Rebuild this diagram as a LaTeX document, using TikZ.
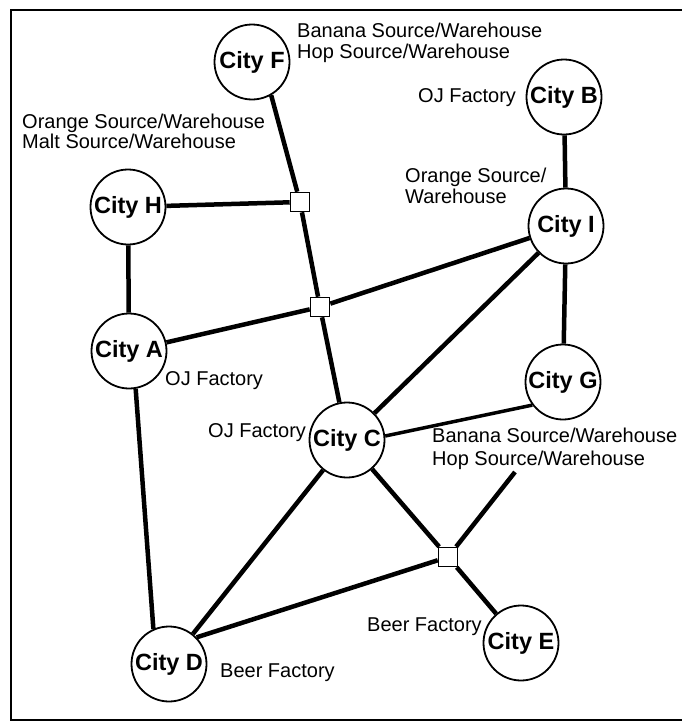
\documentclass[tikz,border=0pt]{standalone}
\usepackage{fontspec}
\setmainfont{Liberation Sans}
\begin{document}
\begin{tikzpicture}[x=1pt,y=-1pt,
  city/.style={circle,draw,line width=1.8pt,fill=white,minimum size=75pt,inner sep=0pt,font=\fontsize{23.5}{24}\selectfont\bfseries},
  hub/.style={rectangle,draw,line width=1.6pt,fill=white,minimum size=19pt,inner sep=0pt},
  road/.style={line width=4.5pt},
  lbl/.style={anchor=north west,inner sep=0pt,align=left}]
\useasboundingbox (0,0) rectangle (681,723);
\draw[line width=1.8pt] (690,10) -- (11,10) -- (11,720) -- (690,720);

% cities
\node[city] (F) at (252,62) {City F};
\node[city] (B) at (564,97) {City B};
\node[city] (H) at (128,207) {City H};
\node[city] (I) at (566,226) {City I};
\node[city] (A) at (129,351) {City A};
\node[city] (G) at (563,382) {City G};
\node[city] (C) at (347,440) {City C};
\node[city] (E) at (521,643) {City E};
\node[city] (D) at (169,664) {City D};

% junctions
\node[hub] (s1) at (300,202) {};
\node[hub] (s2) at (320,307) {};
\node[hub] (s3) at (448,557) {};
\coordinate (hubend) at (515,472);

% roads
\draw[road] (F.-60) -- (s1);
\draw[road] (s1) -- (s2);
\draw[road] (s2) -- (C);
\draw[road] (H) -- (s1);
\draw[road] (H) -- (A);
\draw[road] (A) -- (s2);
\draw[road] (s2) -- (I);
\draw[road] (B) -- (I);
\draw[road] (I) -- (G);
\draw[road] (I) -- (C);
\draw[road,line width=3.5pt] (G.217) -- (C.6);
\draw[road] (A.-80) -- (D.114);
\draw[road] (C) -- (D);
\draw[road] (D.44) -- (s3);
\draw[road] (C) -- (s3);
\draw[road] (s3) -- (E);
\draw[road] (s3) -- (hubend);

% labels
\node[lbl,font=\fontsize{20}{21}\selectfont] (lF) at (297,22.5) {Banana Source/Warehouse\\Hop Source/Warehouse};
\node[lbl,font=\fontsize{20}{20}\selectfont] (lH) at (22,113.5) {Orange Source/Warehouse\\Malt Source/Warehouse};
\node[lbl,font=\fontsize{20}{21}\selectfont] (lB) at (418,88.5) {OJ Factory};
\node[lbl,font=\fontsize{20}{21}\selectfont] (lI) at (405,167.5) {Orange Source/\\Warehouse};
\node[lbl,font=\fontsize{20}{21}\selectfont] (lA) at (165,371.5) {OJ Factory};
\node[lbl,font=\fontsize{20}{21}\selectfont] (lC) at (208,423.5) {OJ Factory};
\node[lbl,font=\fontsize{20}{23}\selectfont] (lG) at (432,427.5) {Banana Source/Warehouse\\Hop Source/Warehouse};
\node[lbl,font=\fontsize{20}{21}\selectfont] (lD) at (220,663.5) {Beer Factory};
\node[lbl,font=\fontsize{20}{21}\selectfont] (lE) at (367,617.5) {Beer Factory};
\end{tikzpicture}
\end{document}
